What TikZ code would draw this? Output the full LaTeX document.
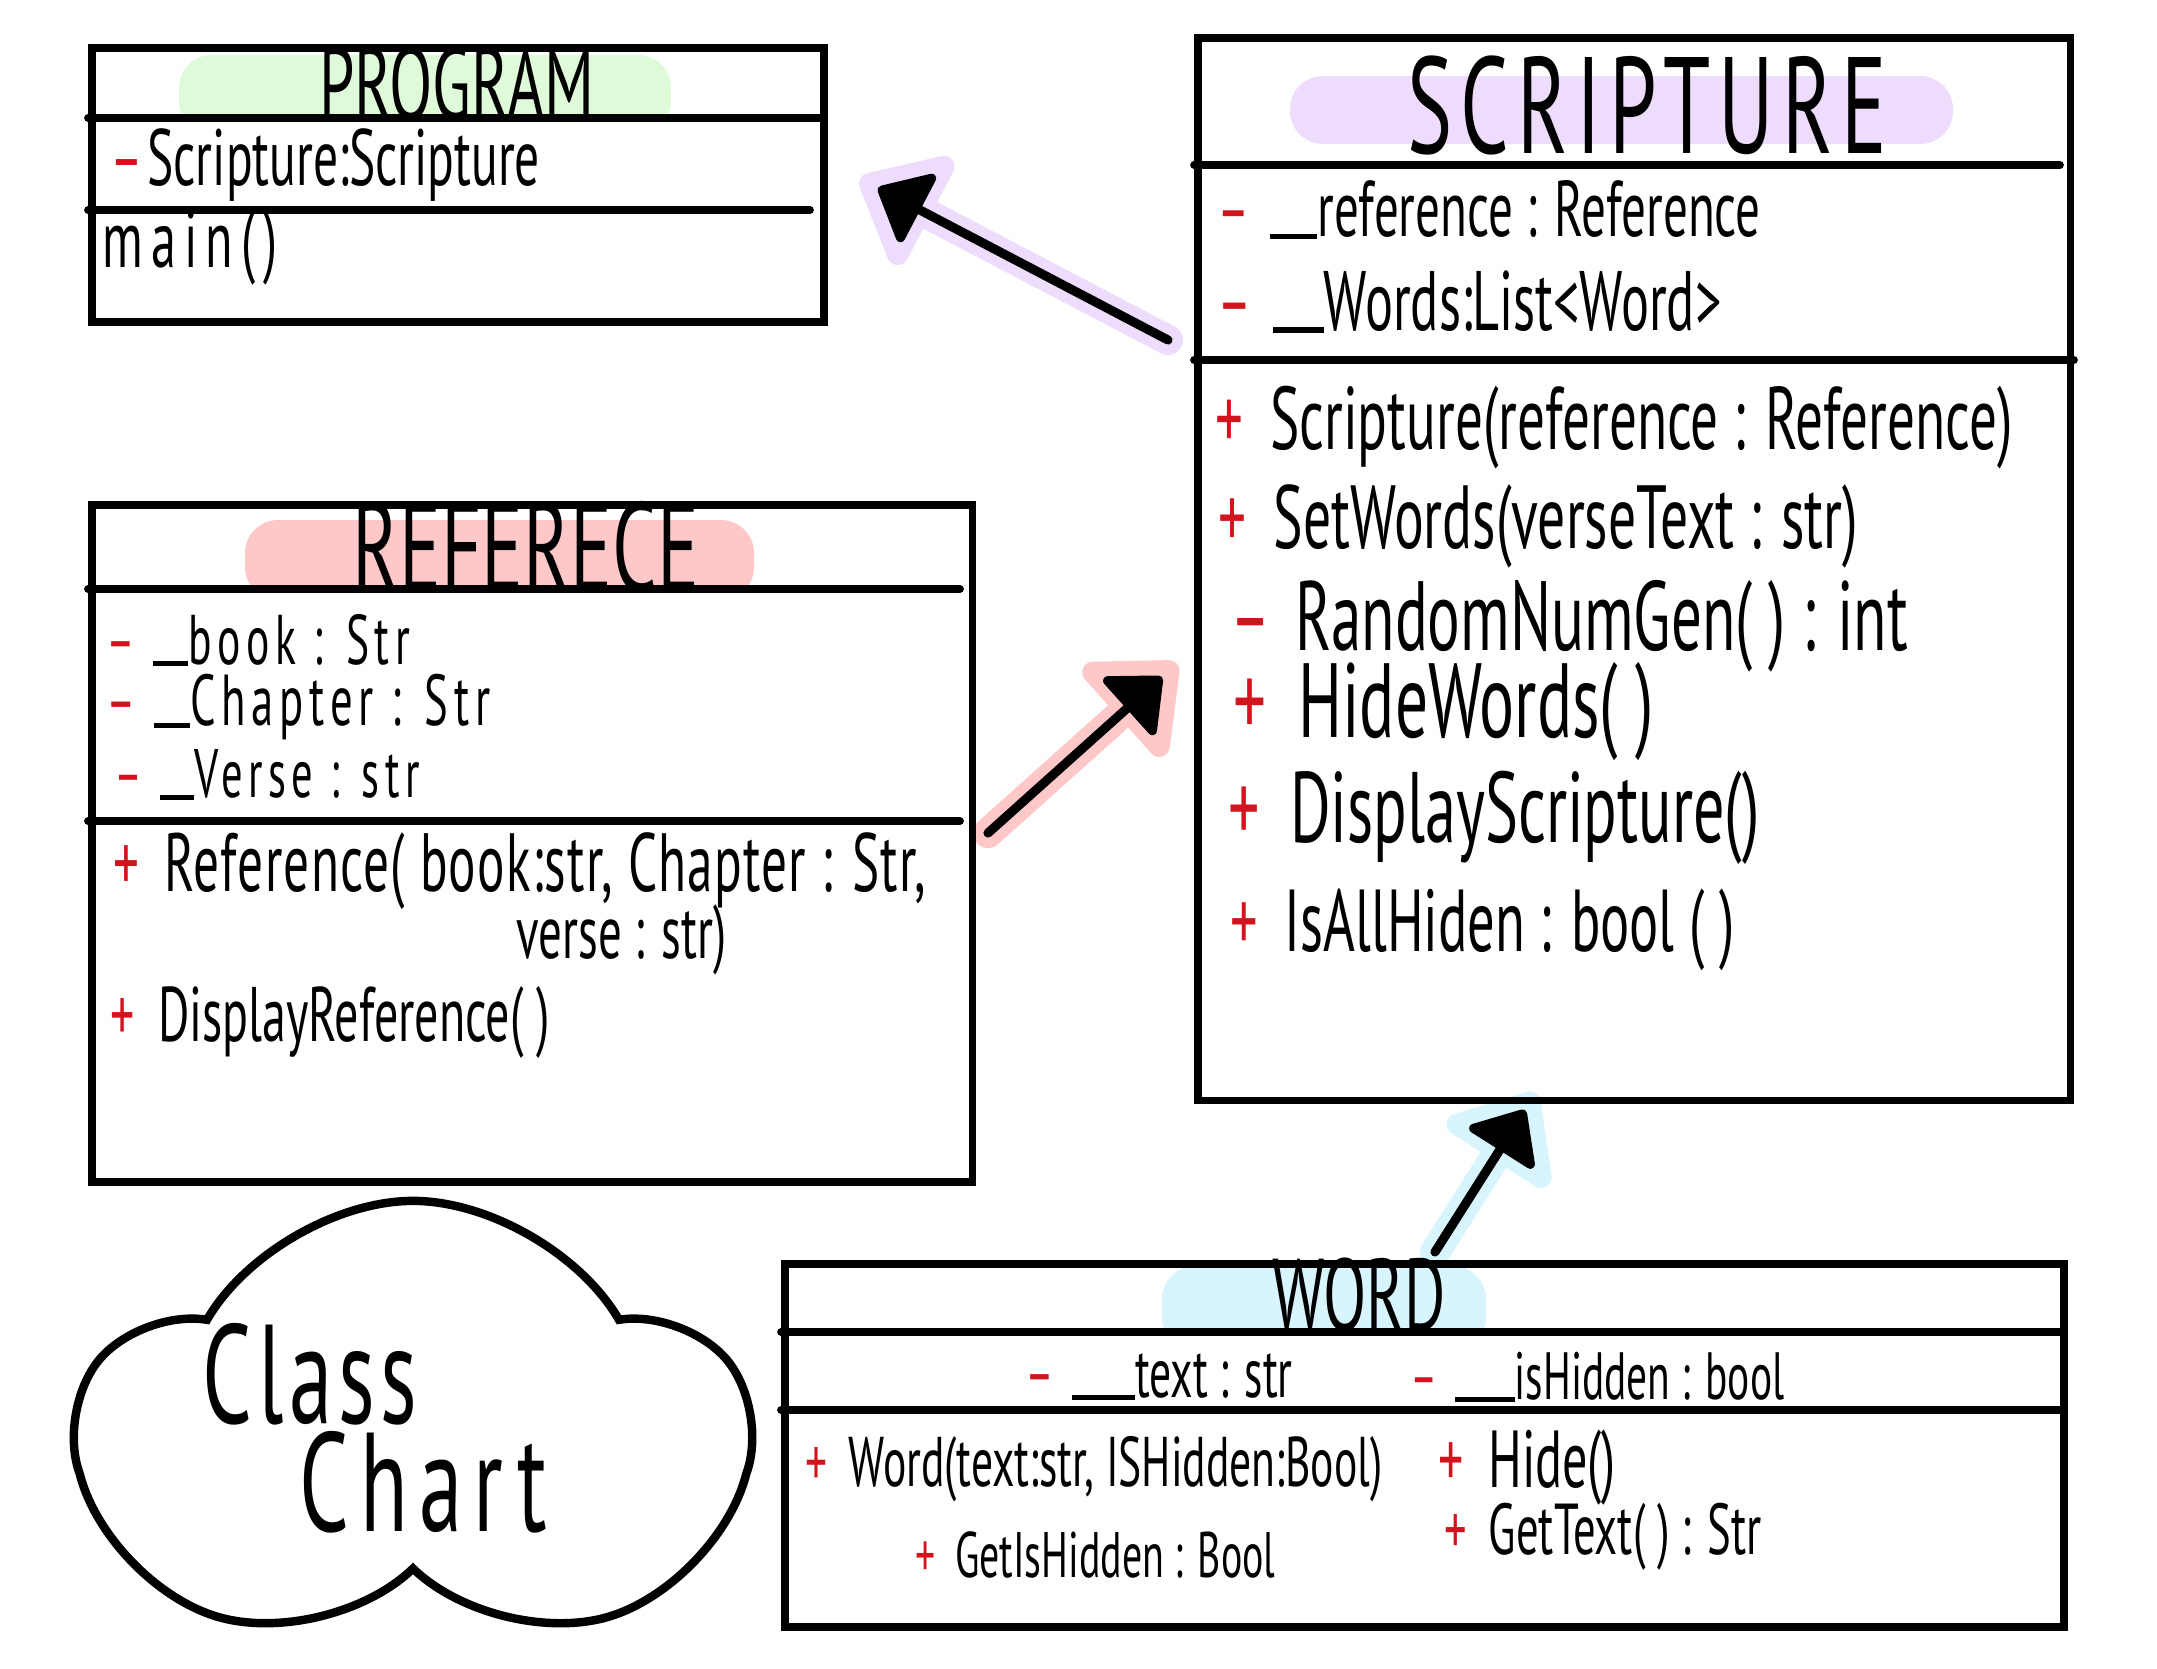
\documentclass[tikz,border=0pt]{standalone}
\usepackage{fontspec}
\setmainfont{PT Sans}[FakeStretch=0.62]
\definecolor{umlred}{RGB}{210,20,30}
\definecolor{pillgreen}{RGB}{222,250,216}
\definecolor{pillpurple}{RGB}{238,220,252}
\definecolor{pillpink}{RGB}{255,200,200}
\definecolor{pillblue}{RGB}{216,244,252}
\usetikzlibrary{arrows.meta}
\usetikzlibrary{shapes.symbols}
\newcommand{\privsign}{\textcolor{umlred}{--}\hspace{0.25em}}
\newcommand{\pubsign}{\textcolor{umlred}{+}\hspace{0.3em}}
\newcommand{\undash}[1][0.5em]{\rule[-0.03em]{#1}{0.07em}}
\tikzset{
  classbox/.style={draw, line width=2.2pt, anchor=north west, inner sep=0pt},
  sepline/.style={line width=2.2pt, line cap=round},
  pill/.style={rounded corners=0.33cm},
  classtitle/.style={inner sep=0pt, font=\fontsize{#1}{#1}\selectfont},
  member/.style={anchor=west, inner sep=0pt, font=\fontsize{#1}{#1}\selectfont},
  member/.default=21,
  glow/.style={line width=0.3cm, line cap=round, line join=round, shorten >=-0.2cm, -{Triangle[length=0.85cm, width=1.4cm, round]}},
  assoc/.style={line width=2.6pt, line cap=round, -{Triangle[length=0.5cm, width=0.85cm, round]}},
}

\begin{document}
\begin{tikzpicture}[x=0.01cm, y=-0.01cm]

  \fill [white] (0,0) rectangle (2157,1668);
  \useasboundingbox (0,0) rectangle (2157,1668);

  % highlights under the arrows
  \coordinate (scrip-out) at (1168,340);
  \coordinate (prog-in) at (878,188);
  \coordinate (ref-out) at (988,833);
  \coordinate (scrip-in) at (1162,677);
  \coordinate (word-out) at (1435,1252);
  \coordinate (scrip-low) at (1525,1110);

  \draw [glow, pillpurple] (scrip-out) -- (prog-in);
  \draw [glow, pillpink] (ref-out) -- (scrip-in);
  \draw [glow, pillblue] (word-out) -- (scrip-low);

  % pills behind the titles
  \begin{scope}
    \clip (88,44) rectangle (820,118);
    \fill [pillgreen, pill] (179,55) rectangle (671,134);
  \end{scope}
  \fill [pillpurple, pill] (1290,76) rectangle (1953,144);
  \begin{scope}
    \clip (88,501) rectangle (968,589);
    \fill [pillpink, pill] (245,520) rectangle (754,600);
  \end{scope}
  \begin{scope}
    \clip (1100,1200) rectangle (1550,1332);
    \fill [pillblue, pill] (1162,1266) rectangle (1486,1350);
  \end{scope}

  % program
  \node [classbox, minimum width=7.32cm, minimum height=2.74cm] (program) at (88,44) {};
  \draw [sepline] (88,118) -- (820,118);
  \draw [sepline] (88,210) -- (810,210);
  \node [classtitle=29] (programtitle) at (457,84) {PROGRAM};
  \node [member=22.7] (programattr) at (110,165) {\privsign\hspace{-0.2em}Scripture:Scripture};
  \node [member=23] (programmain) at (102,248) {\addfontfeature{LetterSpace=10}main()};

  % scripture
  \node [classbox, minimum width=8.72cm, minimum height=10.62cm] (scripture) at (1194,34) {};
  \draw [sepline] (1194,165) -- (2060,165);
  \draw [sepline] (1194,360) -- (2074,360);
  \node [classtitle=39] (scripturetitle) at (1647,105) {\addfontfeature{LetterSpace=6}SCRIPTURE};
  \node [member=22.5] (scripref) at (1217,210) {\privsign \undash[0.6em]reference : Reference};
  \node [member=24] (scripwords) at (1217,302) {\privsign \undash[0.6em]Words:List<Word>};
  \node [member=25.3] (scripctor) at (1215,428) {\pubsign Scripture(reference : Reference)};
  \node [member=25.5] (scripset) at (1218,526) {\pubsign SetWords(verseText : str)};
  \node [member=28] (scriprand) at (1230,626) {\privsign RandomNumGen( ) : int};
  \node [member=30] (scriphide) at (1233,712) {\pubsign HideWords( )};
  \node [member=28.5] (scripshow) at (1228,818) {\pubsign DisplayScripture()};
  \node [member=25] (scripall) at (1230,930) {\pubsign IsAllHiden : bool ( )};

  % reference
  \node [classbox, minimum width=8.8cm, minimum height=6.77cm] (reference) at (88,501) {};
  \draw [sepline] (88,589) -- (960,589);
  \draw [sepline] (88,821) -- (960,821);
  \node [classtitle=36] (referencetitle) at (526,547) {REFERECE};
  \node [member=20] (refbook) at (106,640) {\addfontfeature{LetterSpace=8}\privsign \undash book : Str};
  \node [member=20.5] (refchapter) at (106,707) {\addfontfeature{LetterSpace=8}\privsign \undash Chapter : Str};
  \node [member=19.5] (refverse) at (114,775) {\addfontfeature{LetterSpace=8}\privsign \undash Verse : str};
  \node [member=23.5] (refctor) at (113,871) {\addfontfeature{LetterSpace=1.5}\pubsign Reference( book:str, Chapter : Str,};
  \node [member=21.5] (refctortail) at (516,940) {verse : str)};
  \node [member=22] (refshow) at (110,1022) {\pubsign DisplayReference( )};

  % word
  \node [classbox, minimum width=12.78cm, minimum height=3.63cm] (word) at (781,1260) {};
  \draw [sepline] (781,1332) -- (2063,1332);
  \draw [sepline] (781,1410) -- (2059,1410);
  \node [classtitle=29] (wordtitle) at (1359,1295) {WORD};
  \node [member=20] (wordtext) at (1025,1377) {\privsign \undash[0.9em]text : str};
  \node [member=19] (wordhidden) at (1410,1377) {\privsign \undash[0.9em]isHidden : bool};
  \node [member=20] (wordctor) at (805,1469) {\pubsign Word(text:str, ISHidden:Bool)};
  \node [member=23] (wordhide) at (1438,1468) {\pubsign Hide()};
  \node [member=18.3] (wordgethidden) at (915,1555) {\pubsign GetIsHidden : Bool};
  \node [member=20.5] (wordgettext) at (1444,1537) {\pubsign GetText( ) : Str};

  % arrows
  \draw [assoc] (scrip-out) -- (prog-in);
  \draw [assoc] (ref-out) -- (scrip-in);
  \draw [assoc] (word-out) -- (scrip-low);

  % cloud
  \node [cloud, cloud puffs=5, cloud puff arc=120, aspect=1.45, draw, line width=2.4pt, minimum width=6.6cm, minimum height=4.6cm] (chart) at (413,1431) {};
  \node [classtitle=40] (classlabel) at (310,1374) {\addfontfeature{LetterSpace=4}Class};
  \node [classtitle=40] (chartlabel) at (423,1482) {\addfontfeature{LetterSpace=8}Chart};

\end{tikzpicture}
\end{document}
